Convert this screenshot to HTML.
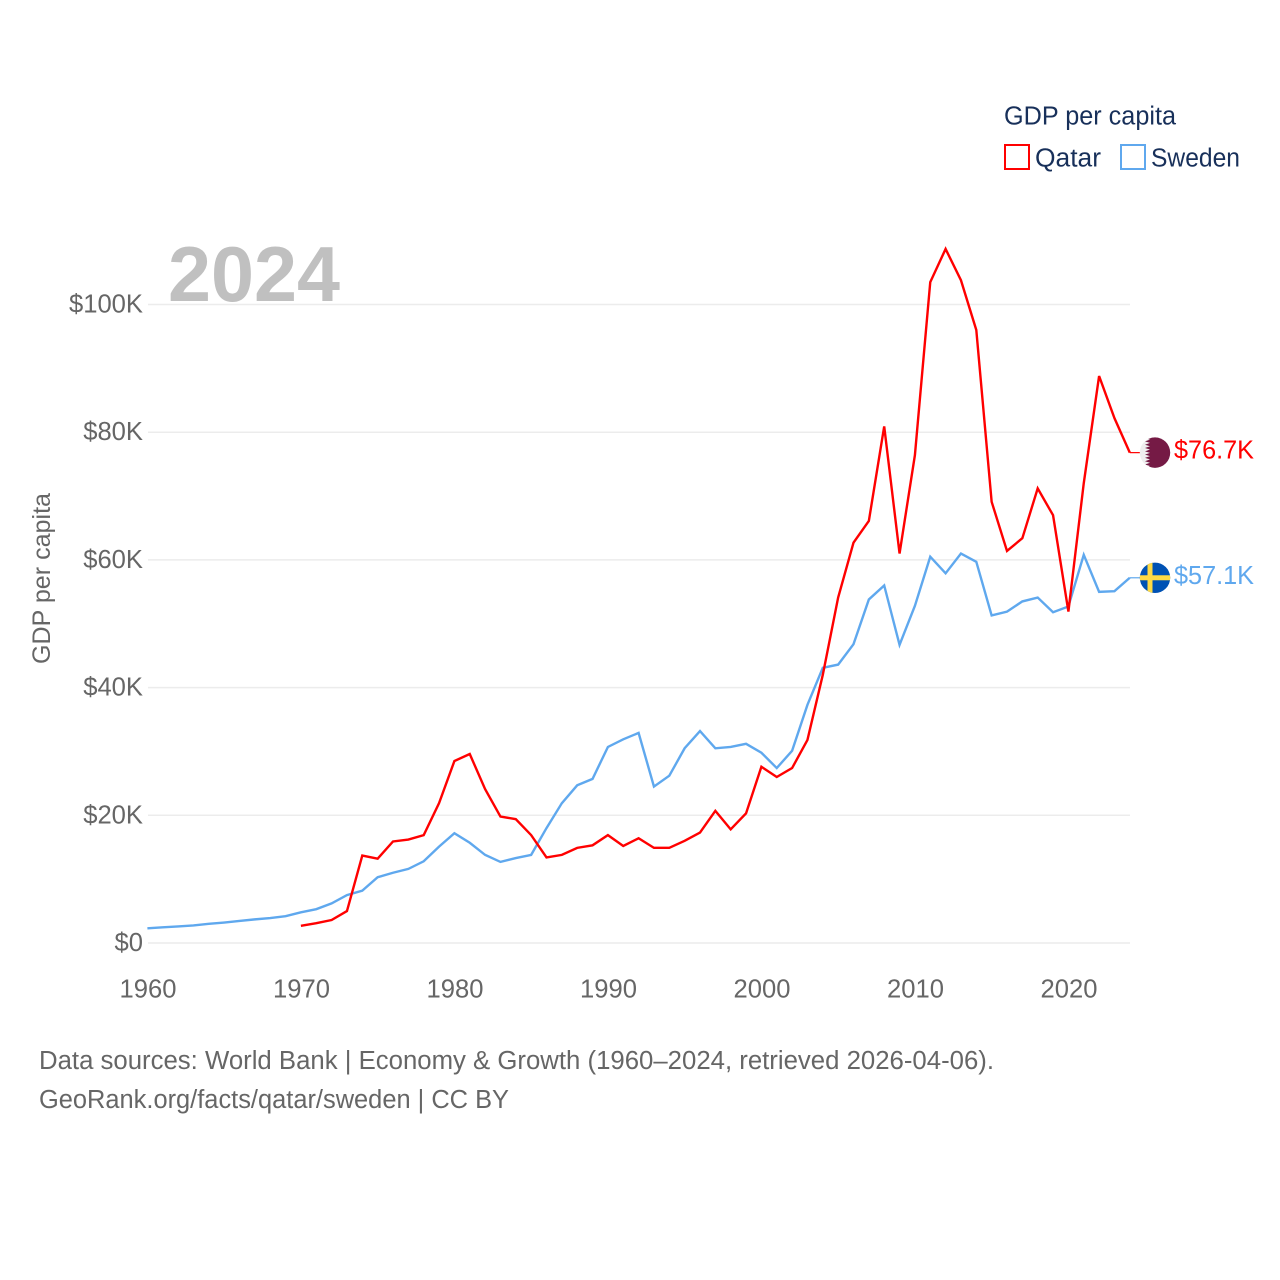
<!DOCTYPE html>
<html lang="en">
<head>
<meta charset="utf-8">
<title>GDP per capita: Qatar and Sweden</title>
<style>
  html, body { margin: 0; padding: 0; background: #fff; }
  svg { display: block; }
  text { font-family: "Liberation Sans", sans-serif; }
</style>
</head>
<body>
<svg id="chart" xmlns="http://www.w3.org/2000/svg" width="1280" height="1280" viewBox="0 0 1280 1280">
  <rect x="0" y="0" width="1280" height="1280" fill="#fff"/>
  <g id="grid"></g>
  <g id="y-ticks"></g>
  <g id="x-ticks"></g>
  <text x="168" y="301" font-size="78" font-weight="700" fill="#c0c0c0" textLength="172" lengthAdjust="spacingAndGlyphs">2024</text>
  <text transform="translate(50,578.5) rotate(-90)" text-anchor="middle" font-size="25" fill="#666" textLength="171" lengthAdjust="spacingAndGlyphs">GDP per capita</text>
  <g id="series"></g>

  <g id="flag-qatar">
    <circle cx="0" cy="0" r="15.2" fill="#efefef"/>
    <clipPath id="qatar-clip"><circle cx="0" cy="0" r="15.2"/></clipPath>
    <polygon clip-path="url(#qatar-clip)" fill="#751a45" points="16,-16 -5,-16 -10,-14.5 -5,-13 -10,-11.2 -5,-9.7 -10,-7.9 -5,-6.4 -10,-4.6 -5,-3.1 -10,-1.3 -5,0.2 -10,2 -5,3.5 -10,5.3 -5,6.8 -10,8.6 -5,10.1 -10,11.9 -5,13.4 -10,15.2 -5,17 16,17"/>
  </g>
  <g id="flag-sweden">
    <circle cx="0" cy="0" r="15.2" fill="#0052b4"/>
    <clipPath id="sweden-clip"><circle cx="0" cy="0" r="15.2"/></clipPath>
    <g clip-path="url(#sweden-clip)" fill="#ffda44">
      <rect x="-7.5" y="-16" width="5" height="32"/>
      <rect x="-16" y="-2.5" width="32" height="5"/>
    </g>
  </g>
  <text id="label-qatar" x="1174" font-size="25.5" fill="#ff0000" textLength="80" lengthAdjust="spacingAndGlyphs"></text>
  <text id="label-sweden" x="1174" font-size="25.5" fill="#5fa8ee" textLength="80" lengthAdjust="spacingAndGlyphs"></text>

  <g>
    <text x="1004" y="124.5" font-size="25.5" fill="#18305a" textLength="172" lengthAdjust="spacingAndGlyphs">GDP per capita</text>
    <g>
      <rect x="1005" y="145" width="24" height="24" fill="#fff" stroke="#ff0000" stroke-width="2"/>
      <text x="1035" y="166.5" font-size="25.5" fill="#18305a" textLength="66" lengthAdjust="spacingAndGlyphs">Qatar</text>
    </g>
    <g>
      <rect x="1121" y="145" width="24" height="24" fill="#fff" stroke="#5fa8ee" stroke-width="2"/>
      <text x="1151" y="166.5" font-size="25.5" fill="#18305a" textLength="89" lengthAdjust="spacingAndGlyphs">Sweden</text>
    </g>
  </g>

  <g>
    <text x="39" y="1069" font-size="25.5" fill="#666" textLength="955" lengthAdjust="spacingAndGlyphs">Data sources: World Bank | Economy &amp; Growth (1960–2024, retrieved 2026-04-06).</text>
    <text x="39" y="1108" font-size="25.5" fill="#666" textLength="470" lengthAdjust="spacingAndGlyphs">GeoRank.org/facts/qatar/sweden | CC BY</text>
  </g>
</svg>
<script>
const years = [1960,1961,1962,1963,1964,1965,1966,1967,1968,1969,1970,1971,1972,1973,1974,1975,1976,1977,1978,1979,1980,1981,1982,1983,1984,1985,1986,1987,1988,1989,1990,1991,1992,1993,1994,1995,1996,1997,1998,1999,2000,2001,2002,2003,2004,2005,2006,2007,2008,2009,2010,2011,2012,2013,2014,2015,2016,2017,2018,2019,2020,2021,2022,2023,2024];
const qatarValues = [null,null,null,null,null,null,null,null,null,null,2.7,3.1,3.6,5.0,13.7,13.2,15.9,16.2,16.9,21.9,28.5,29.6,24.1,19.8,19.4,16.9,13.4,13.8,14.9,15.3,16.9,15.2,16.4,14.9,14.9,16.0,17.3,20.7,17.8,20.3,27.6,26.0,27.4,31.8,42.0,54.1,62.7,66.1,80.9,61.0,76.4,103.5,108.7,103.8,96.0,69.1,61.4,63.4,71.2,67.0,51.9,72.0,88.8,82.2,76.8];
const swedenValues = [2.3,2.45,2.6,2.75,3.0,3.2,3.45,3.7,3.9,4.2,4.8,5.3,6.2,7.5,8.2,10.3,11.0,11.6,12.8,15.1,17.2,15.7,13.8,12.7,13.3,13.8,18.0,21.9,24.7,25.7,30.7,31.9,32.9,24.5,26.2,30.5,33.2,30.5,30.7,31.2,29.8,27.4,30.1,37.3,43.1,43.6,46.8,53.8,56.0,46.7,52.8,60.5,57.9,61.0,59.7,51.3,51.9,53.5,54.1,51.8,52.7,60.8,55.0,55.1,57.2];
const yTickValues = [0,20,40,60,80,100];
const yTickLabels = ["$0","$20K","$40K","$60K","$80K","$100K"];
const xTickValues = [1960,1970,1980,1990,2000,2010,2020];
const qatarEndLabel = "$76.7K";
const swedenEndLabel = "$57.1K";

const SVG_NS = "http://www.w3.org/2000/svg";
const xScale = year => 147.4 + (year - 1960) * (1129.8 - 147.4) / 64;
const yScale = value => 943 - value * 6.385;

function make(tag, attrs, parent) {
  const el = document.createElementNS(SVG_NS, tag);
  for (const key in attrs) el.setAttribute(key, attrs[key]);
  parent.appendChild(el);
  return el;
}

const gridLayer = document.getElementById("grid");
const yLayer = document.getElementById("y-ticks");
yTickValues.forEach((value, i) => {
  const line = make("line", {x1: 148, x2: 1130, y1: yScale(value), y2: yScale(value), stroke: "#ececec", "stroke-width": 1.5}, gridLayer);
  
  
  const label = make("text", {x: 143, y: yScale(value) + 8, "text-anchor": "end", "font-size": 25.6, fill: "#666"}, yLayer);
  
  
  label.textContent = yTickLabels[i];
});

const xLayer = document.getElementById("x-ticks");
xTickValues.forEach(year => {
  const label = make("text", {x: xScale(year) + 0.6, y: 997.5, "text-anchor": "middle", "font-size": 25.6, fill: "#666"}, xLayer);
  
  
  label.textContent = year;
});

function linePath(values) {
  let d = "";
  values.forEach((value, i) => {
    if (value === null) return;
    d += (d ? "L" : "M") + xScale(years[i]).toFixed(2) + " " + yScale(value).toFixed(2);
  });
  return d;
}

const seriesLayer = document.getElementById("series");
function drawSeries(values, color, lineName, connectorName, flagId, labelId, labelText) {
  const line = make("path", {d: linePath(values), fill: "none", stroke: color, "stroke-width": 2.4, "stroke-linejoin": "miter"}, seriesLayer);
  
  
  const lastY = yScale(values[values.length - 1]);
  const connector = make("line", {x1: xScale(years[years.length - 1]), x2: 1140, y1: lastY, y2: lastY, stroke: color, "stroke-width": 1.2}, seriesLayer);
  
  
  document.getElementById(flagId).setAttribute("transform", "translate(1155," + lastY + ")");
  const label = document.getElementById(labelId);
  label.setAttribute("y", lastY + 6);
  label.textContent = labelText;
}
drawSeries(swedenValues, "#5fa8ee", "sweden-line", "sweden-connector", "flag-sweden", "label-sweden", swedenEndLabel);
drawSeries(qatarValues, "#ff0000", "qatar-line", "qatar-connector", "flag-qatar", "label-qatar", qatarEndLabel);
</script>
</body>
</html>
